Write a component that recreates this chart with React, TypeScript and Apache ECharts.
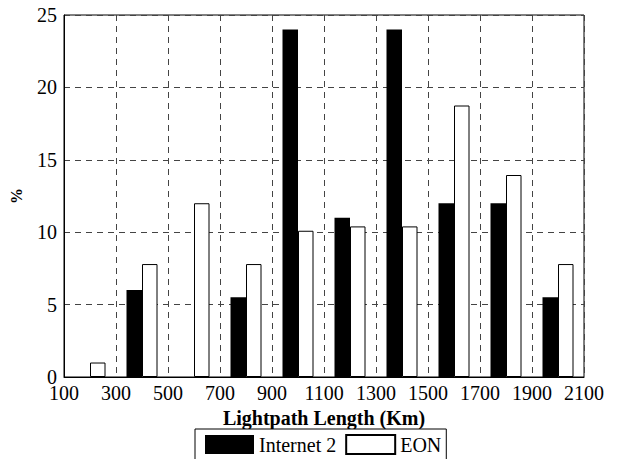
import React, { useEffect, useRef } from "react";
import * as echarts from "echarts";

const centers = [200, 400, 600, 800, 1000, 1200, 1400, 1600, 1800, 2000];
const internet2 = [0, 6, 0, 5.5, 24, 11, 24, 12, 12, 5.5];
const eon = [1, 7.8, 12, 7.8, 10.1, 10.4, 10.4, 18.75, 13.95, 7.8];
const seriesNames = ["Internet 2", "EON"];

const FONT = "Liberation Serif";

export default function App() {
  const ref = useRef<HTMLDivElement>(null);
  useEffect(() => {
    const chart = echarts.init(ref.current!, null, { renderer: "svg" });
    chart.setOption({
      animation: false,
      backgroundColor: "#fff",
      grid: {
        left: 60.5,
        right: 35,
        top: 15,
        bottom: 82,
        show: true,
        borderColor: "#000",
        borderWidth: 1,
        backgroundColor: "transparent",
      },
      xAxis: {
        type: "value",
        min: 100,
        max: 2100,
        interval: 200,
        name: "Lightpath Length (Km)",
        nameLocation: "middle",
        nameGap: 29,
        nameTextStyle: { fontFamily: FONT, fontSize: 20, fontWeight: "bold", color: "#000" },
        axisLine: { show: true, lineStyle: { color: "#000", width: 1 } },
        axisTick: { show: false },
        axisLabel: {
          fontFamily: FONT,
          fontSize: 20,
          color: "#000",
          margin: 6,
          formatter: (v: number) => String(v),
        },
        splitLine: { show: true, lineStyle: { type: [6, 5], color: "#444", width: 1 } },
      },
      yAxis: {
        type: "value",
        min: 0,
        max: 25,
        interval: 5,
        name: "%",
        nameLocation: "middle",
        nameRotate: 90,
        nameGap: 40,
        nameTextStyle: { fontFamily: FONT, fontSize: 16, fontWeight: "bold", color: "#000" },
        axisLine: { show: true, lineStyle: { color: "#000", width: 1 } },
        axisTick: { show: false },
        axisLabel: { fontFamily: FONT, fontSize: 20, color: "#000", margin: 7 },
        splitLine: { show: true, lineStyle: { type: [6, 5], color: "#444", width: 1 } },
      },
      legend: {
        left: 195,
        top: 429,
        orient: "horizontal",
        icon: "rect",
        itemWidth: 49,
        itemHeight: 19,
        itemGap: 9,
        padding: [5, 5, 10, 10],
        borderColor: "#000",
        borderWidth: 1,
        backgroundColor: "#fff",
        textStyle: { fontFamily: FONT, fontSize: 20, color: "#000" },
        data: seriesNames,
      },
      series: [
        {
          name: seriesNames[0],
          type: "bar",
          barWidth: 15.5,
          barGap: "0%",
          data: centers.map((c, i) => [c, internet2[i]]),
          itemStyle: { color: "#000", borderColor: "#000", borderWidth: 0 },
        },
        {
          name: seriesNames[1],
          type: "bar",
          barWidth: 15.5,
          barGap: "0%",
          data: centers.map((c, i) => [c, eon[i]]),
          itemStyle: { color: "#fff", borderColor: "#000", borderWidth: 1 },
        },
      ],
    });
    return () => chart.dispose();
  }, []);
  return (
    <div
      ref={ref}
      style={{ position: "fixed", left: 0, top: 0, width: 619, height: 459 }}
    />
  );
}
